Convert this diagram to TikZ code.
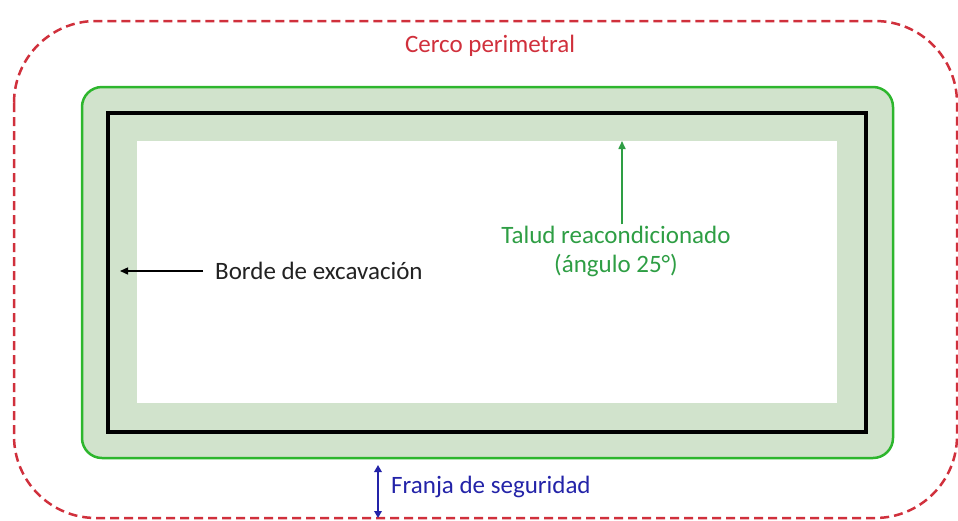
\documentclass[tikz,border=0pt]{standalone}
\usepackage{fontspec}
\setmainfont{Carlito}
\usetikzlibrary{arrows.meta}
\definecolor{redc}{HTML}{D0303C}
\definecolor{greenb}{HTML}{2DB62D}
\definecolor{greenf}{HTML}{D1E3CC}
\definecolor{greent}{HTML}{2E9E44}
\definecolor{bluec}{HTML}{2323A8}
\definecolor{textc}{HTML}{222222}
\tikzset{
  lbl/.style={inner sep=0pt, font=\fontsize{25}{29}\selectfont},
  tip/.style={-{Triangle[length=8pt,width=7pt]}},
}
\begin{document}
\begin{tikzpicture}[x=1pt,y=-1pt]
\useasboundingbox (0,0) rectangle (958,520);
% outer dashed fence
\draw[redc, line width=2.5pt, dash pattern=on 9pt off 5pt, rounded corners=82pt]
  (14,21) rectangle (957,518);
% slope band
\node[draw=greenb, fill=greenf, line width=2.5pt, rounded corners=20pt,
      minimum width=811pt, minimum height=371pt, inner sep=0pt] (talud) at (487.5,272.5) {};
% inner white area
\node[fill=white, minimum width=700pt, minimum height=262pt, inner sep=0pt] (fondo) at (487,272) {};
% excavation edge
\node[draw=black, line width=4.5pt, minimum width=758pt, minimum height=319pt, inner sep=0pt] (borde) at (487,272.5) {};

% labels
\node[lbl, text=redc, anchor=base] (cerco) at (490,52) {Cerco perimetral};
\node[lbl, text=greent, anchor=base, align=center] (tal) at (616,272) {Talud reacondicionado\\(ángulo 25°)};
\node[lbl, text=textc, anchor=base west] (bd) at (215,279) {Borde de excavación};
\node[lbl, text=bluec, anchor=base west] (fr) at (391,493) {Franja de seguridad};

% arrows
\coordinate (gt) at (622,141);
\draw[greent, line width=1.6pt, tip] ([yshift=1pt]tal.north -| gt) -- (gt);
\coordinate (be) at (120,271);
\draw[black, line width=1.4pt, tip] ([xshift=-12pt]bd.west |- be) -- (be);
\coordinate (fa) at (378,465);
\coordinate (fb) at (378,518);
\draw[bluec, line width=1.8pt, {Triangle[length=7pt,width=7.5pt]}-{Triangle[length=7pt,width=7.5pt]}] (fa) -- (fb);
\end{tikzpicture}
\end{document}
